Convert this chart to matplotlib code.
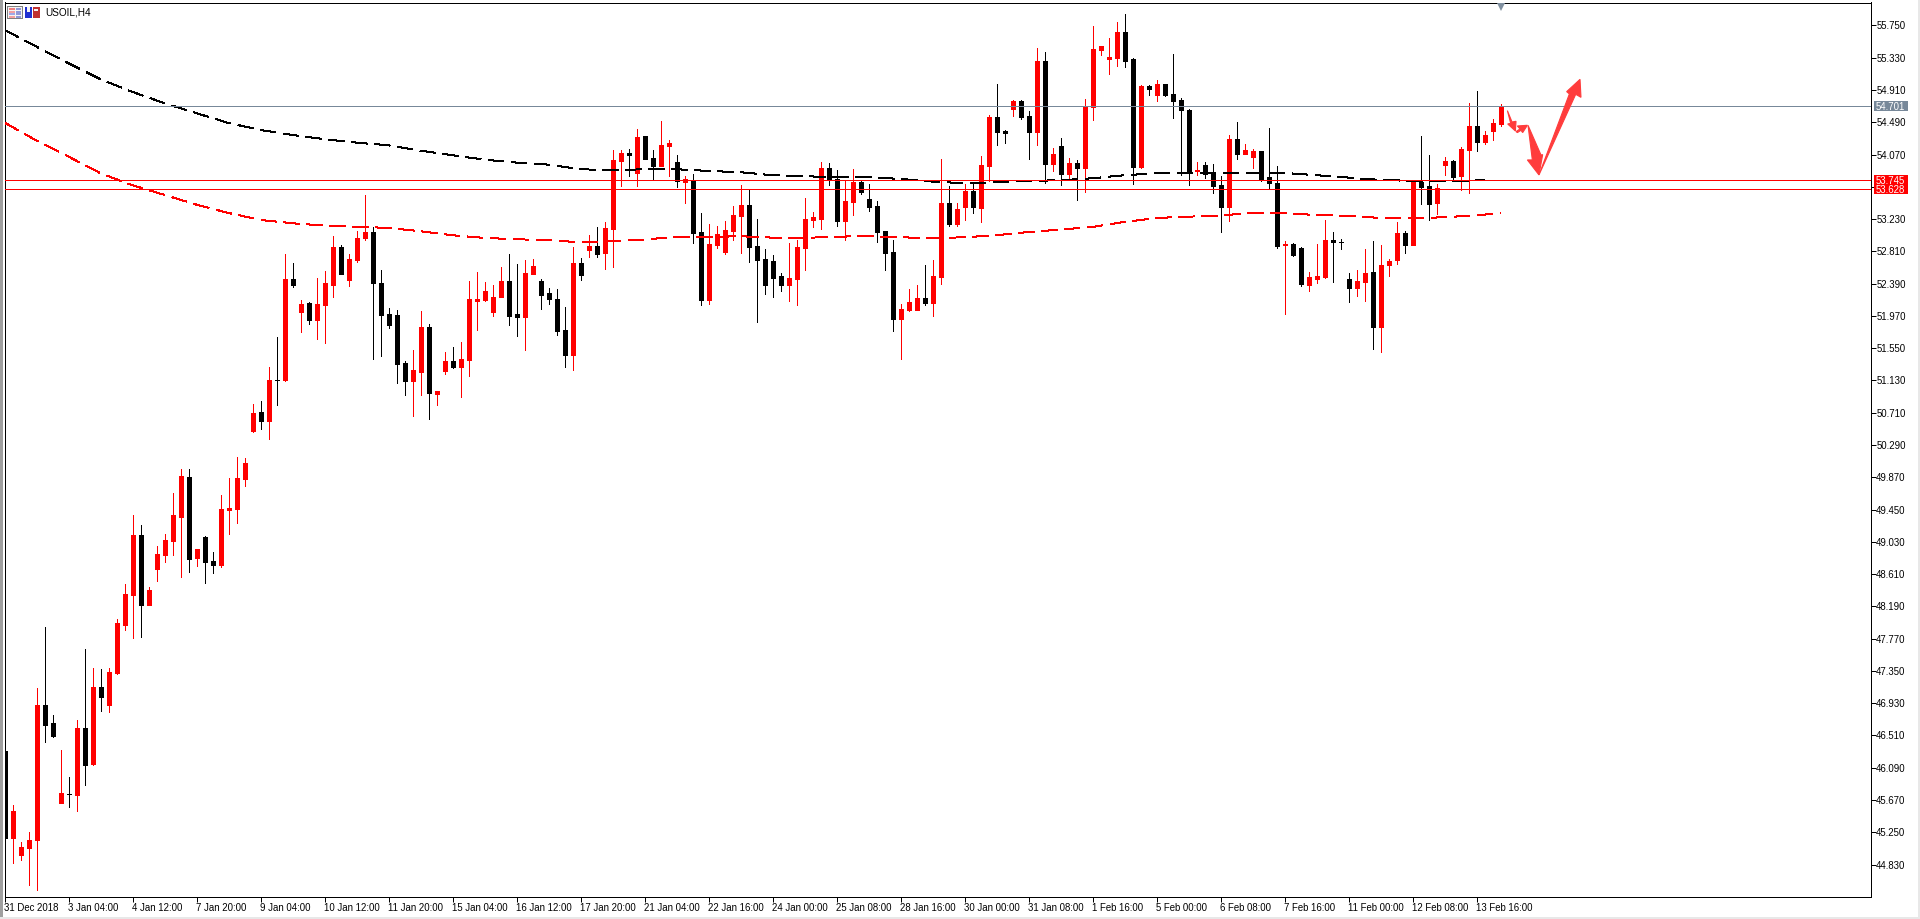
import numpy as np
from matplotlib import pyplot as plt
from matplotlib import rcParams
from matplotlib.patches import Polygon, Rectangle
from matplotlib.transforms import Affine2D

WIDTH = 1920
HEIGHT = 919
PX = 0.72  # one pixel in points at dpi 100

rcParams['font.family'] = ['Liberation Sans', 'DejaVu Sans']
rcParams['font.size'] = 6.9

symbol = "USOIL,H4"

opens = [
    46.310, 45.178, 44.957, 45.048, 45.152, 46.908, 46.674, 45.633, 45.750, 45.737,
    46.609, 46.141, 47.143, 46.908, 47.325, 47.949, 48.340, 49.120, 48.210, 48.678,
    48.860, 49.042, 49.355, 49.875, 48.821, 49.094, 48.782, 48.730, 49.446, 49.459,
    49.849, 50.474, 50.721, 50.604, 51.137, 51.137, 52.452, 52.022, 52.139, 51.918,
    52.113, 52.374, 52.868, 52.439, 52.699, 52.985, 53.063, 52.400, 51.996, 51.983,
    51.359, 51.124, 51.241, 51.827, 50.955, 51.254, 51.385, 51.306, 51.398, 52.165,
    52.178, 52.022, 52.217, 52.426, 51.996, 51.957, 52.517, 52.426, 52.269, 52.191,
    51.788, 51.463, 52.660, 52.829, 52.881, 52.790, 53.102, 53.987, 54.091, 53.831,
    54.312, 54.026, 53.922, 54.182, 53.974, 53.714, 53.740, 53.063, 52.178, 52.894,
    52.803, 53.076, 53.271, 53.414, 52.881, 52.712, 52.686, 52.491, 52.374, 52.452,
    52.855, 53.219, 53.232, 53.896, 53.753, 53.206, 53.454, 53.714, 53.493, 53.401,
    53.076, 52.803, 51.931, 52.048, 52.048, 52.204, 52.139, 52.478, 53.441, 53.167,
    53.388, 53.597, 53.375, 53.922, 54.560, 54.377, 54.664, 54.768, 54.573, 54.364,
    55.288, 53.948, 54.182, 53.818, 53.961, 53.896, 54.690, 55.431, 55.314, 55.327,
    55.666, 55.314, 53.909, 54.963, 54.846, 54.989, 54.859, 54.781, 54.651, 53.857,
    53.935, 53.844, 53.675, 53.388, 54.273, 54.078, 54.039, 54.117, 53.779, 53.701,
    52.894, 52.907, 52.855, 52.374, 52.452, 52.478, 52.959, 52.933, 52.452, 52.335,
    52.413, 52.543, 51.827, 52.634, 52.699, 53.050, 52.894, 53.714, 53.662, 53.441,
    53.935, 53.987, 53.792, 54.130, 54.443, 54.234, 54.377, 54.469,
]
highs = [
    46.323, 45.607, 45.126, 45.256, 47.130, 47.923, 46.778, 46.323, 45.972, 46.713,
    47.637, 47.390, 47.377, 47.390, 48.027, 48.483, 49.381, 49.251, 48.444, 48.977,
    49.134, 49.667, 49.979, 49.979, 48.938, 49.107, 48.899, 49.641, 49.862, 50.135,
    50.122, 50.825, 50.864, 51.306, 51.697, 52.777, 52.660, 52.178, 52.152, 52.465,
    52.556, 53.011, 52.894, 52.777, 53.076, 53.545, 53.128, 52.569, 52.074, 52.048,
    51.385, 51.528, 52.035, 51.866, 50.994, 51.502, 51.567, 51.632, 52.426, 52.543,
    52.413, 52.374, 52.608, 52.777, 52.647, 52.699, 52.712, 52.452, 52.335, 52.321,
    52.087, 52.868, 52.725, 53.024, 53.128, 53.193, 54.130, 54.130, 54.143, 54.403,
    54.312, 54.130, 54.508, 54.260, 54.065, 53.792, 53.818, 53.310, 53.167, 53.141,
    53.206, 53.401, 53.675, 53.623, 53.232, 52.842, 52.764, 52.530, 52.920, 52.959,
    53.506, 53.323, 53.974, 53.961, 53.870, 53.727, 53.883, 53.740, 53.688, 53.467,
    53.076, 52.959, 52.126, 52.321, 52.374, 52.634, 52.699, 54.013, 53.662, 53.441,
    53.688, 53.688, 54.052, 54.586, 54.989, 54.390, 54.781, 54.781, 54.638, 55.457,
    55.405, 54.156, 54.286, 54.026, 54.000, 54.794, 55.744, 55.483, 55.587, 55.796,
    55.900, 55.327, 54.976, 54.976, 55.041, 54.989, 55.379, 54.807, 54.664, 53.974,
    53.974, 53.948, 53.792, 54.325, 54.495, 54.208, 54.143, 54.117, 54.416, 53.922,
    52.946, 52.920, 52.868, 52.543, 52.907, 53.219, 53.063, 52.972, 52.530, 52.569,
    52.842, 52.946, 52.894, 52.712, 53.193, 53.076, 53.714, 54.312, 54.065, 53.688,
    54.039, 54.000, 54.169, 54.742, 54.898, 54.377, 54.534, 54.729,
]
lows = [
    45.152, 44.853, 44.892, 44.566, 44.501, 46.427, 46.492, 45.633, 45.581, 45.529,
    45.868, 46.128, 46.830, 46.817, 47.312, 47.884, 47.780, 47.793, 48.210, 48.522,
    48.769, 48.860, 48.574, 48.639, 48.717, 48.496, 48.626, 48.704, 49.134, 49.277,
    49.758, 50.461, 50.500, 50.370, 50.812, 51.124, 52.348, 51.762, 51.866, 51.671,
    51.619, 52.217, 52.517, 52.361, 52.673, 52.959, 51.411, 51.450, 51.814, 51.098,
    50.942, 50.669, 50.942, 50.630, 50.812, 51.215, 51.293, 50.916, 51.189, 51.788,
    52.165, 51.970, 52.217, 51.853, 51.710, 51.528, 52.517, 52.061, 52.126, 51.723,
    51.306, 51.267, 52.439, 52.738, 52.738, 52.582, 52.608, 53.662, 53.792, 53.662,
    54.013, 53.753, 53.922, 53.792, 53.649, 53.441, 52.920, 52.113, 52.126, 52.855,
    52.777, 52.959, 52.790, 52.673, 51.892, 52.256, 52.217, 52.295, 52.165, 52.113,
    52.569, 53.128, 53.102, 53.675, 53.141, 52.959, 53.284, 53.558, 53.336, 52.933,
    52.569, 51.775, 51.411, 52.035, 52.048, 52.113, 51.970, 52.387, 53.141, 53.141,
    53.219, 53.310, 53.193, 53.727, 54.195, 54.221, 54.573, 54.534, 54.013, 54.195,
    53.701, 53.857, 53.675, 53.766, 53.480, 53.584, 54.521, 55.366, 55.119, 55.223,
    55.210, 53.688, 53.896, 54.846, 54.768, 54.833, 54.547, 53.805, 53.675, 53.805,
    53.766, 53.571, 53.063, 53.206, 54.013, 54.078, 53.896, 53.727, 53.636, 52.855,
    51.996, 52.751, 52.361, 52.295, 52.400, 52.465, 52.413, 52.842, 52.152, 52.230,
    52.165, 51.541, 51.502, 52.491, 52.647, 52.790, 52.894, 53.428, 53.219, 53.297,
    53.805, 53.753, 53.610, 53.571, 54.117, 54.208, 54.260, 54.443,
]
closes = [
    45.178, 45.529, 45.061, 45.152, 46.908, 46.648, 46.505, 45.763, 45.750, 46.609,
    46.128, 47.143, 47.013, 47.338, 47.975, 48.353, 49.120, 48.210, 48.405, 48.873,
    49.055, 49.381, 49.888, 48.808, 48.938, 48.769, 48.730, 49.459, 49.472, 49.862,
    50.057, 50.708, 50.604, 51.137, 51.137, 52.452, 52.374, 52.126, 51.918, 52.126,
    52.400, 52.868, 52.517, 52.712, 52.985, 53.063, 52.400, 51.983, 51.853, 51.346,
    51.124, 51.267, 51.827, 50.968, 50.994, 51.385, 51.306, 51.411, 52.191, 52.191,
    52.295, 52.217, 52.426, 51.970, 51.957, 52.530, 52.621, 52.243, 52.191, 51.775,
    51.463, 52.660, 52.504, 52.881, 52.777, 53.115, 54.000, 54.091, 54.065, 54.299,
    54.013, 53.922, 54.195, 54.221, 53.727, 53.753, 53.050, 52.178, 52.907, 53.037,
    53.089, 53.284, 53.414, 52.868, 52.699, 52.374, 52.465, 52.374, 52.465, 52.868,
    53.232, 53.258, 53.896, 53.753, 53.206, 53.467, 53.714, 53.584, 53.388, 53.063,
    52.790, 51.931, 52.061, 52.152, 52.204, 52.139, 52.491, 53.441, 53.167, 53.362,
    53.597, 53.388, 53.935, 54.560, 54.364, 54.351, 54.768, 54.560, 54.364, 55.288,
    53.948, 54.078, 53.818, 53.961, 53.896, 54.690, 55.444, 55.483, 55.340, 55.666,
    55.288, 53.909, 54.963, 54.924, 54.989, 54.846, 54.768, 54.651, 53.831, 53.870,
    53.818, 53.662, 53.388, 54.273, 54.078, 54.130, 54.117, 53.740, 53.701, 52.881,
    52.907, 52.764, 52.387, 52.478, 52.491, 52.959, 52.933, 52.933, 52.335, 52.426,
    52.530, 51.827, 52.634, 52.686, 53.050, 52.894, 53.714, 53.649, 53.428, 53.636,
    53.987, 53.779, 54.143, 54.443, 54.234, 54.325, 54.482, 54.701,
]

# moving averages, read every fourth bar
slow_ma_bars = list(range(0, 184, 4)) + [185]
slow_ma = [
    55.692, 55.474, 55.258, 55.050, 54.885, 54.738, 54.608, 54.481, 54.390, 54.325,
    54.270, 54.225, 54.191, 54.121, 54.061, 54.004, 53.965, 53.939, 53.879, 53.866,
    53.879, 53.879, 53.857, 53.840, 53.801, 53.788, 53.775, 53.775, 53.753, 53.718,
    53.697, 53.710, 53.727, 53.736, 53.762, 53.801, 53.827, 53.835, 53.835, 53.835,
    53.831, 53.801, 53.770, 53.740, 53.727, 53.723, 53.736,
]
fast_ma_bars = list(range(0, 188, 4)) + [187]
fast_ma = [
    54.486, 54.251, 54.043, 53.827, 53.671, 53.545, 53.418, 53.310, 53.219, 53.176,
    53.145, 53.132, 53.115, 53.072, 53.020, 52.985, 52.968, 52.955, 52.929, 52.946,
    52.963, 53.002, 52.998, 53.007, 52.989, 52.985, 53.002, 53.007, 52.994, 52.981,
    52.994, 53.020, 53.063, 53.093, 53.128, 53.193, 53.245, 53.262, 53.275, 53.314,
    53.306, 53.284, 53.271, 53.245, 53.241, 53.254, 53.280, 53.306,
]

bid_price = 54.701
level_prices = [53.745, 53.628]

price_ticks = [44.83 + 0.42 * n for n in range(27)]
time_tick_bars = list(range(0, 188, 8))
time_labels = [
    "31 Dec 2018", "3 Jan 04:00", "4 Jan 12:00", "7 Jan 20:00", "9 Jan 04:00",
    "10 Jan 12:00", "11 Jan 20:00", "15 Jan 04:00", "16 Jan 12:00", "17 Jan 20:00",
    "21 Jan 04:00", "22 Jan 16:00", "24 Jan 00:00", "25 Jan 08:00", "28 Jan 16:00",
    "30 Jan 00:00", "31 Jan 08:00", "1 Feb 16:00", "5 Feb 00:00", "6 Feb 08:00",
    "7 Feb 16:00", "11 Feb 00:00", "12 Feb 08:00", "13 Feb 16:00",
]

# hand drawn forecast arrows: (bar, price) outlines
forecast_arrows = [
    ([187.86, 188.44, 188.94, 188.86, 187.90, 188.27],
     [54.642, 54.494, 54.503, 54.377, 54.468, 54.477]),
    ([188.94, 189.44, 189.11, 190.36, 189.77, 189.56, 189.11],
     [54.369, 54.403, 54.442, 54.451, 54.356, 54.386, 54.356]),
    ([190.44, 192.06, 192.27, 191.81, 190.36, 190.98],
     [54.451, 54.065, 54.069, 53.805, 54.000, 54.000]),
    ([191.81, 195.61, 195.27, 196.94, 197.06, 196.40],
     [53.805, 54.859, 54.889, 55.049, 54.815, 54.854]),
]


def pixel_transform():
    # y runs down from the top of the figure
    return Affine2D().scale(1, -1).translate(0, HEIGHT)


def add_pixel_rect(fig, x, y, w, h, color):
    fig.add_artist(Rectangle((x, y), w, h, transform=pixel_transform(),
                             facecolor=color, edgecolor='none', antialiased=False))


def draw_window_edges(fig):
    add_pixel_rect(fig, 0, 0, 2.5, HEIGHT, '#a0a0a0')
    add_pixel_rect(fig, 1917.5, 0, 2.5, HEIGHT, '#e8e8e8')
    add_pixel_rect(fig, 0, 916.5, WIDTH, 2.5, '#e8e8e8')


def draw_symbol_icons(fig):
    add_pixel_rect(fig, 7, 6, 16, 13, '#808080')
    add_pixel_rect(fig, 8, 7, 14, 11, '#f4f4f4')
    for row, color in enumerate(['#f08080', '#f4a0a0', '#a0a8e8', '#f4a0a0']):
        add_pixel_rect(fig, 9, 8 + row * 2.5, 6, 2, color)
        add_pixel_rect(fig, 16, 8 + row * 2.5, 5, 2, '#9098d8')
    add_pixel_rect(fig, 25, 7, 7, 11, '#2030d0')
    add_pixel_rect(fig, 33, 7, 7, 11, '#c03030')
    add_pixel_rect(fig, 27, 7, 3, 5, '#f4f4f4')
    add_pixel_rect(fig, 34, 9, 4, 2, '#f4f4f4')
    fig.text(45 / WIDTH, 1 - 12.5 / HEIGHT, symbol, fontsize=7.2, color='black',
             ha='left', va='center')


def draw_candles(ax):
    bars = np.arange(len(opens))
    open_arr = np.array(opens)
    close_arr = np.array(closes)
    colors = ['red' if c > o else 'black' for o, c in zip(opens, closes)]
    ax.vlines(bars, lows, highs, colors=colors, linewidth=PX, antialiased=False, zorder=2)
    ax.bar(bars, np.abs(close_arr - open_arr), bottom=np.minimum(open_arr, close_arr),
           width=0.5, color=colors, edgecolor=colors, linewidth=PX,
           antialiased=False, zorder=3)


def draw_price_flag(ax, price, color):
    ax.add_patch(Rectangle((1 + 3 / 1866, price - 5.2 / 76.85), 34 / 1866, 10.2 / 76.85,
                           transform=ax.get_yaxis_transform(), clip_on=False,
                           facecolor=color, edgecolor='none', antialiased=False, zorder=6))
    ax.text(1 + 5.5 / 1866, price, f"{price:.3f}", transform=ax.get_yaxis_transform(),
            color='white', ha='left', va='center_baseline', clip_on=False, zorder=7)


def main():
    fig = plt.figure(figsize=(WIDTH / 100, HEIGHT / 100), dpi=100, facecolor='white')
    ax = fig.add_axes([4.5 / WIDTH, 22.5 / HEIGHT, 1866 / WIDTH, 894 / HEIGHT])
    ax.set_xlim(0, 233.25)
    ax.set_ylim(44.414, 56.049)

    draw_candles(ax)
    ma_width = 0.5
    ma_dashes = (0, (23, 11.5))
    ax.plot(slow_ma_bars, slow_ma, color='black', linewidth=ma_width, linestyle=ma_dashes,
            dash_capstyle='butt', antialiased=False, zorder=4)
    ax.plot(fast_ma_bars, fast_ma, color='red', linewidth=ma_width, linestyle=ma_dashes,
            dash_capstyle='butt', antialiased=False, zorder=4)

    ax.axhline(bid_price, color='#778899', linewidth=PX, zorder=5)
    for level in level_prices:
        ax.axhline(level, color='red', linewidth=PX, zorder=5)

    for arrow_bars, arrow_prices in forecast_arrows:
        ax.add_patch(Polygon(list(zip(arrow_bars, arrow_prices)), closed=True,
                             facecolor='#ff3c3c', edgecolor='#ff3c3c', linewidth=0.8, zorder=6))

    # chart shift marker on the top edge
    ax.plot([187], [55.985], marker='v', markersize=6, color='#8090a0',
            markeredgewidth=0, clip_on=False, zorder=6)

    ax.yaxis.tick_right()
    ax.set_yticks(price_ticks)
    ax.set_yticklabels([f"{p:.3f}" for p in price_ticks])
    ax.tick_params(axis='y', length=3.6, width=PX, pad=0.5, colors='black')
    ax.set_xticks(time_tick_bars)
    ax.set_xticklabels(time_labels, ha='left')
    ax.tick_params(axis='x', length=3.6, width=PX, pad=1.2, colors='black')
    for spine in ax.spines.values():
        spine.set_linewidth(PX)
        spine.set_color('black')

    draw_price_flag(ax, bid_price, '#778899')
    draw_price_flag(ax, level_prices[0], 'red')
    draw_price_flag(ax, level_prices[1], 'red')

    draw_window_edges(fig)
    draw_symbol_icons(fig)

    fig.savefig("out.png", format="png", dpi=100)


main()
